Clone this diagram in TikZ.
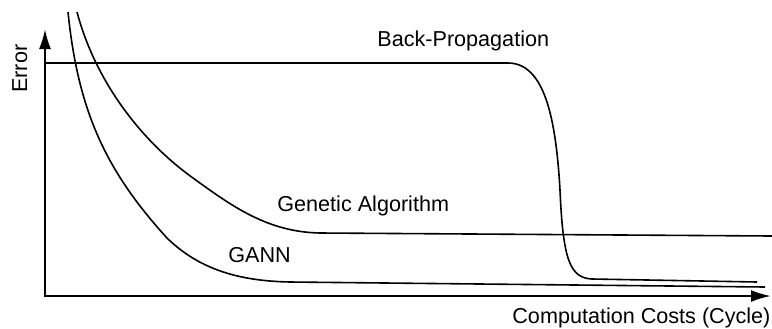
\documentclass[tikz,border=0pt]{standalone}
\usepackage{fontspec}
\setmainfont{Liberation Sans}
\usetikzlibrary{arrows.meta}
\tikzset{
   axis/.style  = {{Latex[length=10pt,width=6pt]}-{Latex[length=10pt,width=6pt]},line width=1.1pt},
   curve/.style = {line width=0.8pt},
   label/.style = {inner sep=0pt,anchor=base west,font=\fontsize{10.8}{13}\selectfont},
}
\begin{document}
\begin{tikzpicture}[x=0.5pt,y=-0.5pt]
      \useasboundingbox (0,0) rectangle (772,328);

      % axes
      \coordinate (ytip)   at (45,29);
      \coordinate (origin) at (45,296);
      \coordinate (xtip)   at (771,296);
      \draw[axis] (ytip) -- (origin) -- (xtip);

      \node[label,rotate=90] (err)  at (27,93)  {Error};
      \node[label]           (cost) at (512,323) {Computation Costs (Cycle)};

      % back-propagation
      \coordinate (bpstart) at (45,63);
      \coordinate (bpend)   at (757,282);
      \draw[curve] (bpstart) -- (508,63)
            .. controls (545,63)  and (556,120) .. (560,190)
            .. controls (563,260) and (570,278) .. (592,279)
            -- (bpend);
      \node[label] (bp) at (377,46) {Back-Propagation};

      % genetic algorithm
      \coordinate (gastart) at (77,12);
      \coordinate (gaend)   at (772,236);
      \draw[curve] (gastart)
            .. controls (95,80)   and (140,140) .. (193,178)
            .. controls (233,207) and (268,232) .. (320,233)
            -- (gaend);
      \node[label] (ga) at (277,211) {Genetic Algorithm};

      % gann
      \coordinate (gnstart) at (68,12);
      \coordinate (gnend)   at (765,287);
      \draw[curve] (gnstart)
            .. controls (78,110)  and (105,170) .. (167,238)
            .. controls (200,270) and (240,281) .. (290,282)
            -- (gnend);
      \node[label] (gn) at (228,262) {GANN};

\end{tikzpicture}
\end{document}
